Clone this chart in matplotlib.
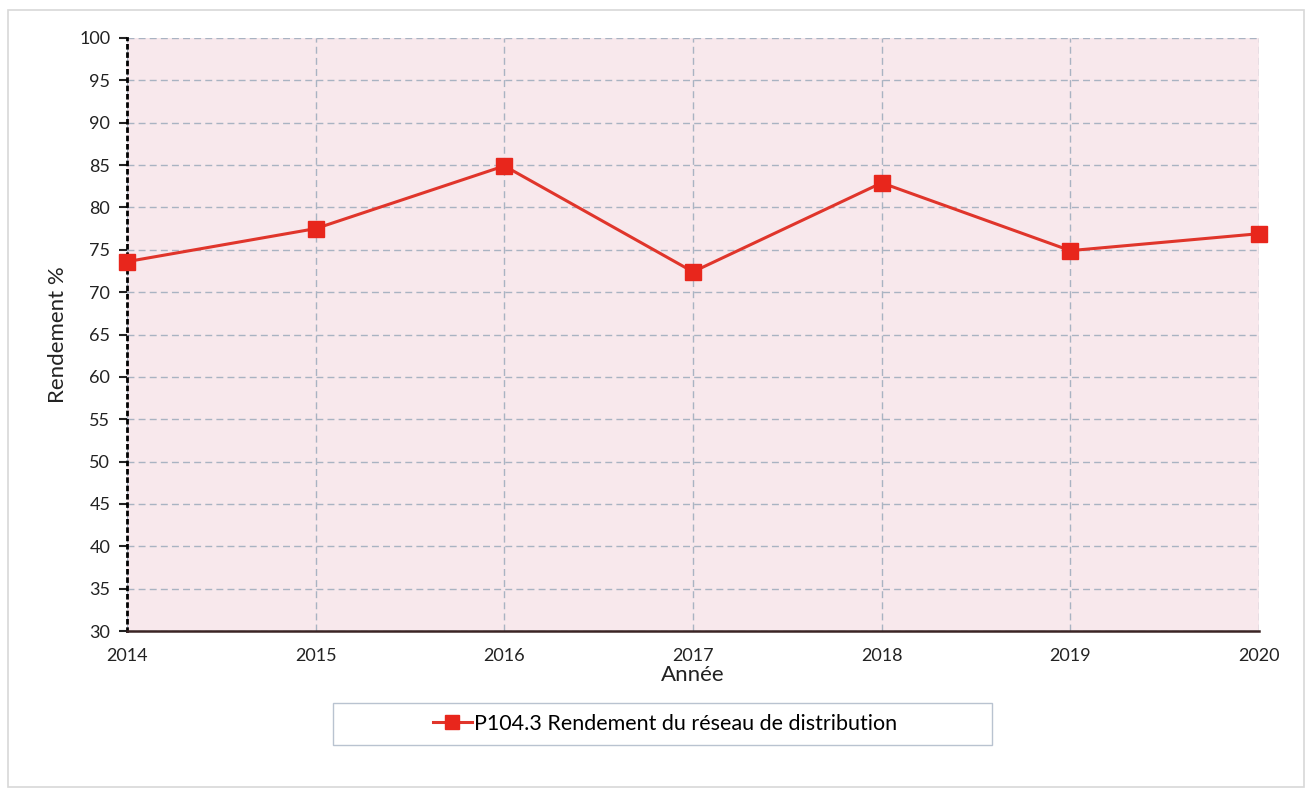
import matplotlib.pyplot as plt
from matplotlib.patches import Rectangle

years = [2014, 2015, 2016, 2017, 2018, 2019, 2020]
rendement = [73.6, 77.5, 84.9, 72.4, 82.9, 74.9, 76.9]
yticks = list(range(30, 101, 5))
series_name = "P104.3 Rendement du réseau de distribution"

plt.rcParams['font.family'] = ['Lato', 'DejaVu Sans']

fig = plt.figure(figsize=(13.06, 7.89), dpi=100)
ax = fig.add_axes([127 / 1306, 1 - 631 / 789, (1259 - 127) / 1306, (631 - 38) / 789])

# outer light frame
fig.patches.append(Rectangle((8 / 1306, 2 / 789), 1296 / 1306, 777 / 789,
                             transform=fig.transFigure, fill=False,
                             edgecolor='#d8d8d8', linewidth=1.2))

ax.set_facecolor('#f8e8ec')
ax.plot(years, rendement, color='#e0352b', linewidth=2.2, marker='s',
        markersize=11, markerfacecolor='#e8261c', markeredgecolor='#e8261c',
        clip_on=False, zorder=5, label=series_name)

ax.set_xlim(2014, 2020)
ax.set_ylim(30, 100)
ax.set_xticks(years)
ax.set_yticks(yticks)
ax.tick_params(axis='both', labelsize=13, colors='#222222')
ax.tick_params(axis='x', length=0, pad=12)
ax.tick_params(axis='y', length=6, width=1.5, pad=6)
ax.grid(True, linestyle=(0, (5, 3)), color='#a9b3c2', linewidth=1)

for s in ['top', 'right']:
    ax.spines[s].set_visible(False)
ax.spines['left'].set_linestyle((0, (1, 2)))
ax.spines['left'].set_linewidth(2)
ax.spines['left'].set_color('black')
ax.spines['bottom'].set_color('#3a2424')
ax.spines['bottom'].set_linewidth(1.8)

ax.set_ylabel('Rendement %', fontsize=16, color='#222222', labelpad=8)
ax.set_xlabel('Année', fontsize=16, color='#222222', labelpad=1)

# legend box
fig.patches.append(Rectangle((333 / 1306, 44 / 789), 659 / 1306, 42 / 789,
                             transform=fig.transFigure, fill=False,
                             edgecolor='#b9c3d0', linewidth=1))
fig.legend(loc='center', bbox_to_anchor=(665 / 1306, 65 / 789), frameon=False,
           fontsize=15.5, handlelength=1.8, handletextpad=0.1, markerscale=0.9)

fig.savefig('out.png', dpi=100)
